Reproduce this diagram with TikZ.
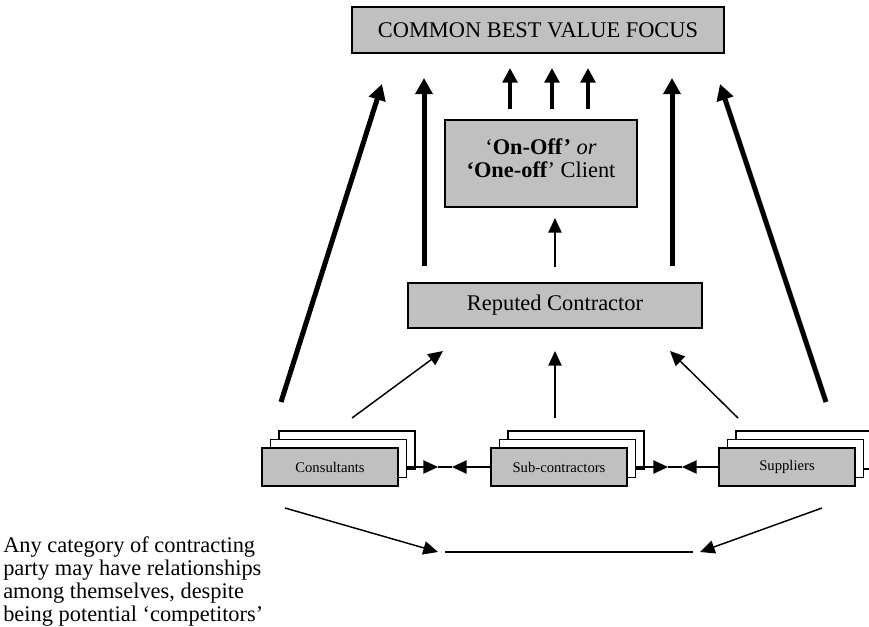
\documentclass[tikz,border=0pt]{standalone}
\usepackage{fontspec}
\setmainfont{Liberation Serif}
\usetikzlibrary{arrows.meta}
\definecolor{boxgray}{RGB}{192,192,192}

\begin{document}
\begin{tikzpicture}[
    x=0.75pt, y=-0.75pt,
    bigbox/.style={draw, line width=1.1pt, fill=boxgray, inner sep=0pt, font=\fontsize{16.8}{17.25}\selectfont},
    stackbox/.style={draw, line width=1.1pt, fill=boxgray, minimum width=102pt, minimum height=28.5pt, inner sep=0pt, font=\fontsize{11}{12}\selectfont},
    layer/.style={stackbox, fill=white},
    thin/.style={line width=1.1pt, -{Triangle[length=11pt, width=10pt]}},
    thick/.style={line width=3.75pt, -{Triangle[length=12pt, width=12.5pt]}},
    short/.style={line width=3pt, -{Triangle[length=11pt, width=11pt]}},
    txt/.style={inner sep=0pt, font=\fontsize{16.8}{17.25}\selectfont}
]
  \useasboundingbox (0,0) rectangle (869,626);

  % 上面的框
  \node[bigbox, minimum width=279pt, minimum height=34.5pt] (top) at (538,30) {COMMON BEST VALUE FOCUS};
  \node[bigbox, minimum width=144pt, minimum height=65.25pt] (client) at (541,163.5) {};
  \node[txt, anchor=north, align=center] (clienttxt) at (541,138) {‘\textbf{On-Off’} \textit{or}\\ \textbf{‘One-off}’ Client};
  \node[bigbox, minimum width=220.5pt, minimum height=33.75pt] (rep) at (555,305.5) {Reputed Contractor};

  % 三组框
  \node[layer] (cons3) at (347,450) {};
  \node[layer] (cons2) at (338.5,458.5) {};
  \node[stackbox] (cons) at (330,467) {Consultants};
  \node[layer] (sub3) at (576,450) {};
  \node[layer] (sub2) at (567.5,458.5) {};
  \node[stackbox] (sub) at (559,467) {Sub-contractors};
  \node[layer] (supp3) at (804,450) {};
  \node[layer] (supp2) at (795.5,458.5) {};
  \node[stackbox] (supp) at (787,467) {Suppliers};

  % 说明
  \node[txt, anchor=north west, align=left] (note) at (3,536) {Any category of contracting\\ party may have relationships\\ among themselves, despite\\ being potential ‘competitors’};

  % 粗箭头
  \coordinate (l1) at (281,402);
  \coordinate (l2) at (382,84);
  \coordinate (r1) at (826,402);
  \coordinate (r2) at (720,84);
  \coordinate (v1) at (424,266);
  \coordinate (v2) at (424,78);
  \coordinate (w1) at (672,266);
  \coordinate (w2) at (672,78);
  \draw[thick] (l1) -- (l2);
  \draw[thick] (r1) -- (r2);
  \draw[thick] (v1) -- (v2);
  \draw[thick] (w1) -- (w2);
  \foreach \x [count=\i] in {510,552,588} {
    \coordinate (s\i) at (\x,109);
    \coordinate (t\i) at (\x,68);
    \draw[short] (s\i) -- (t\i);
  }

  % 细箭头
  \coordinate (c1) at (555,267);
  \coordinate (c2) at (555,218);
  \draw[thin] (c1) -- (c2);
  \coordinate (a1) at (352,418);
  \coordinate (a2) at (443,351);
  \coordinate (a3) at (555,418);
  \coordinate (a4) at (555,351);
  \coordinate (a5) at (738,418);
  \coordinate (a6) at (670,351);
  \draw[thin] (a1) -- (a2);
  \draw[thin] (a3) -- (a4);
  \draw[thin] (a5) -- (a6);

  % 组之间
  \coordinate (m1) at (438,467);
  \coordinate (m2) at (452,467);
  \coordinate (m3) at (668,467);
  \coordinate (m4) at (682,467);
  \draw[thin] (cons2.east |- cons.east) -- (m1);
  \draw[thin] (sub.west) -- (m2);
  \draw[line width=1.1pt] (m1) -- (m2);
  \draw[thin] (sub2.east |- sub.east) -- (m3);
  \draw[thin] (supp.west) -- (m4);
  \draw[line width=1.1pt] (m3) -- (m4);

  % 下面
  \coordinate (b1) at (285,508);
  \coordinate (b2) at (438,552);
  \coordinate (b3) at (822,508);
  \coordinate (b4) at (700,552);
  \coordinate (h1) at (445,552);
  \coordinate (h2) at (693,552);
  \draw[thin] (b1) -- (b2);
  \draw[thin] (b3) -- (b4);
  \draw[line width=1.5pt] (h1) -- (h2);

\end{tikzpicture}
\end{document}
